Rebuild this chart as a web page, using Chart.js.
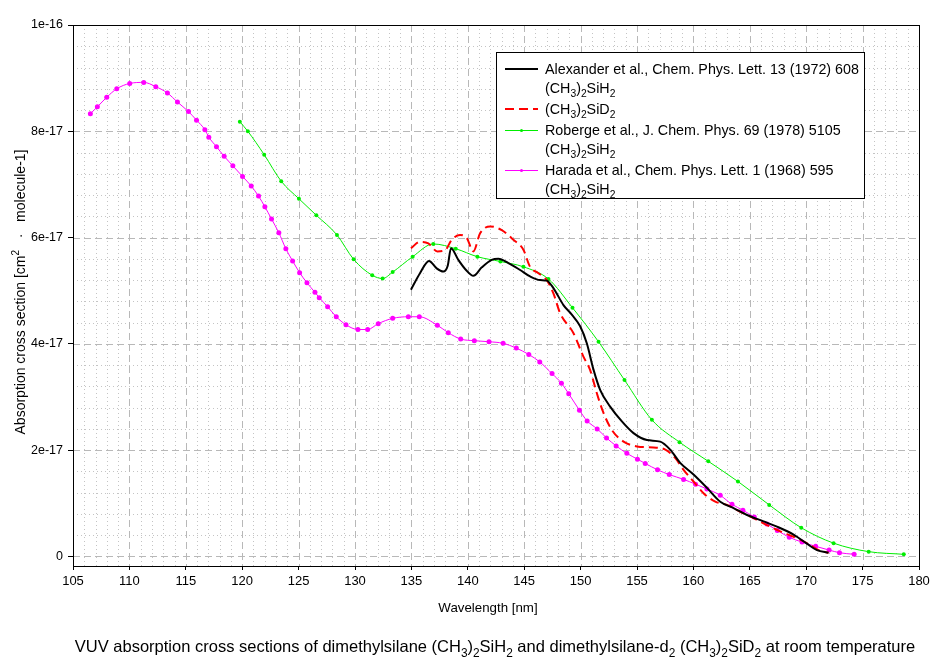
<!DOCTYPE html>
<html><head><meta charset="utf-8">
<script src="https://cdn.jsdelivr.net/npm/chart.js@4.4.1/dist/chart.umd.min.js"></script>
<style>html,body{margin:0;padding:0;background:#fff;}canvas{display:block;}</style>
</head><body>
<canvas id="c" width="944" height="663"></canvas>
<script>
// ---- data (y in units of 1e-17 cm^2 molecule^-1) ----
const xTicks = [105,110,115,120,125,130,135,140,145,150,155,160,165,170,175,180];
const yTicks = [0,2,4,6,8,10];
const yTickLabels = ['0','2e-17','4e-17','6e-17','8e-17','1e-16'];

const alexX = [134.96,135.76,136.56,137.24,137.83,138.22,138.51,139.16,139.84,140.49,141.24,142.12,142.71,143.60,144.64,145.52,146.41,147.00,147.59,148.48,149.22,149.96,150.55,151.15,151.74,152.62,153.66,154.69,155.88,157.06,157.94,158.83,160.01,161.20,162.38,163.56,164.75,166.22,167.41,168.88,170.06,170.95,171.98];
const alexY = [5.02,5.33,5.56,5.42,5.36,5.47,5.80,5.58,5.39,5.28,5.44,5.58,5.60,5.52,5.39,5.27,5.20,5.19,5.05,4.73,4.55,4.33,4.01,3.51,3.13,2.82,2.54,2.32,2.19,2.16,2.01,1.76,1.54,1.29,1.03,0.91,0.78,0.66,0.56,0.41,0.24,0.12,0.07];

const d2X = [134.96,135.76,136.50,137.30,137.98,138.58,139.31,139.91,140.49,141.09,141.98,143.01,144.04,144.93,145.52,146.26,147.00,147.59,148.18,149.37,150.25,150.84,151.44,152.03,152.77,153.81,155.00,156.47,157.51,158.40,159.13,160.01,160.90,161.94,162.98,164.16,165.34,166.52,167.70,168.88,170.06,171.10,171.98];
const d2Y = [5.80,5.92,5.89,5.74,5.76,5.96,6.05,5.99,5.74,6.08,6.21,6.14,5.96,5.77,5.45,5.33,5.20,4.95,4.58,4.20,3.76,3.51,3.07,2.70,2.38,2.16,2.07,2.05,2.01,1.85,1.63,1.41,1.19,1.03,0.97,0.84,0.72,0.59,0.47,0.37,0.25,0.12,0.07];

const robX = [119.79,120.50,121.95,123.46,125.03,126.57,128.40,129.88,131.53,132.45,133.34,135.11,136.94,138.93,140.85,142.89,144.93,147.15,149.28,151.59,153.89,156.32,158.77,161.32,163.95,166.72,169.56,172.43,175.54,178.65];
const robY = [8.18,8.00,7.56,7.06,6.73,6.42,6.05,5.59,5.29,5.23,5.35,5.64,5.88,5.79,5.64,5.55,5.45,5.22,4.68,4.04,3.32,2.57,2.15,1.79,1.41,0.97,0.54,0.25,0.09,0.04];

const harX = [106.54,107.16,107.99,108.88,110.03,111.27,112.34,113.37,114.26,115.24,115.95,116.69,117.04,117.72,118.40,119.17,120.03,120.80,121.45,122.01,122.60,123.25,123.87,124.47,125.09,125.74,126.45,126.83,127.57,128.34,129.20,130.26,131.12,132.06,133.34,134.73,135.70,137.30,138.27,139.37,140.58,141.88,143.13,144.30,145.41,146.38,147.47,148.30,148.95,149.90,150.58,151.47,152.30,153.15,154.10,155.04,155.73,156.82,157.86,159.13,160.19,161.20,162.38,163.42,164.39,165.40,166.52,167.44,168.50,169.63,170.84,172.03,172.95,174.25];
const harY = [8.33,8.46,8.64,8.80,8.90,8.92,8.84,8.72,8.55,8.37,8.21,8.03,7.89,7.71,7.53,7.35,7.15,6.97,6.78,6.58,6.35,6.09,5.79,5.56,5.34,5.15,4.97,4.87,4.70,4.51,4.36,4.27,4.27,4.38,4.48,4.51,4.51,4.35,4.21,4.09,4.06,4.04,4.01,3.92,3.80,3.66,3.44,3.26,3.06,2.75,2.55,2.40,2.23,2.08,1.94,1.83,1.75,1.63,1.54,1.45,1.36,1.27,1.15,0.98,0.87,0.74,0.61,0.49,0.36,0.27,0.19,0.12,0.07,0.04];

const zip = (xs, ys) => xs.map((x, i) => ({x: x, y: ys[i]}));

const FONT = '"Liberation Sans", Arial, Helvetica, sans-serif';

// rich text: segments [text, mode] mode: 0 normal, 1 sub, 2 sup
function richWidth(ctx, segs, size) {
  let w = 0;
  segs.forEach(s => {
    ctx.font = (s[1] ? size * 0.72 : size) + 'px ' + FONT;
    w += ctx.measureText(s[0]).width;
  });
  return w;
}
function drawRich(ctx, segs, x, y, size, align) {
  const w = richWidth(ctx, segs, size);
  let cx = align === 'center' ? x - w / 2 : (align === 'right' ? x - w : x);
  ctx.textAlign = 'left';
  ctx.textBaseline = 'alphabetic';
  segs.forEach(s => {
    const sz = s[1] ? size * 0.72 : size;
    ctx.font = sz + 'px ' + FONT;
    let dy = 0;
    if (s[1] === 1) dy = size * 0.28;
    if (s[1] === 2) dy = -size * 0.42;
    ctx.fillText(s[0], cx, y + dy);
    cx += ctx.measureText(s[0]).width;
  });
}
const SIH2 = [['(CH',0],['3',1],[')',0],['2',1],['SiH',0],['2',1]];
const SID2 = [['(CH',0],['3',1],[')',0],['2',1],['SiD',0],['2',1]];

const legendItems = [
  {rows: [[['Alexander et al., Chem. Phys. Lett. 13 (1972) 608',0]], SIH2], color: '#000000', width: 2, dash: [], marker: false},
  {rows: [SID2], color: '#ff0000', width: 2, dash: [9,5], marker: false},
  {rows: [[['Roberge et al., J. Chem. Phys. 69 (1978) 5105',0]], SIH2], color: '#00ee00', width: 1, dash: [], marker: true},
  {rows: [[['Harada et al., Chem. Phys. Lett. 1 (1968) 595',0]], SIH2], color: '#ff00ff', width: 1, dash: [], marker: true}
];

const gridPlugin = {
  id: 'gridPlugin',
  beforeDatasetsDraw(chart) {
    const ctx = chart.ctx, a = chart.chartArea;
    const xs = chart.scales.x, ys = chart.scales.y;
    ctx.save();
    ctx.lineWidth = 1;
    // minor dotted
    ctx.strokeStyle = '#c4c4c4';
    ctx.setLineDash([1, 3]);
    for (let v = 106; v < 180; v++) {
      if (v % 5 === 0) continue;
      const px = Math.round(xs.getPixelForValue(v)) + 0.5;
      ctx.beginPath(); ctx.moveTo(px, a.top); ctx.lineTo(px, a.bottom); ctx.stroke();
    }
    for (let k = 1; k < 25; k++) {
      if (k % 5 === 0) continue;
      const py = Math.round(ys.getPixelForValue(k * 0.4)) + 0.5;
      ctx.beginPath(); ctx.moveTo(a.left, py); ctx.lineTo(a.right, py); ctx.stroke();
    }
    // major dashed
    ctx.strokeStyle = '#b8b8b8';
    ctx.setLineDash([7, 4]);
    xTicks.forEach(v => {
      if (v === 105 || v === 180) return;
      const px = Math.round(xs.getPixelForValue(v)) + 0.5;
      ctx.beginPath(); ctx.moveTo(px, a.top); ctx.lineTo(px, a.bottom); ctx.stroke();
    });
    yTicks.forEach(v => {
      if (v === 10) return;
      const py = Math.round(ys.getPixelForValue(v)) + 0.5;
      ctx.beginPath(); ctx.moveTo(a.left, py); ctx.lineTo(a.right, py); ctx.stroke();
    });
    ctx.restore();
  },
  afterDraw(chart) {
    const ctx = chart.ctx, a = chart.chartArea;
    ctx.save();
    // frame
    ctx.setLineDash([]);
    ctx.strokeStyle = '#000';
    ctx.lineWidth = 1;
    ctx.strokeRect(Math.round(a.left) + 0.5, Math.round(a.top) + 0.5, Math.round(a.right - a.left), Math.round(a.bottom - a.top));
    ctx.fillStyle = '#000';
    // x title
    drawRich(ctx, [['Wavelength [nm]',0]], 488, 612, 13.3, 'center');
    // caption
    drawRich(ctx, [['VUV absorption cross sections of dimethylsilane ',0]].concat(SIH2, [[' and dimethylsilane-d',0],['2',1],[' ',0]], SID2, [[' at room temperature',0]]), 495, 652, 16.5, 'center');
    // y title
    ctx.save();
    ctx.translate(25, 292);
    ctx.rotate(-Math.PI / 2);
    drawRich(ctx, [['Absorption cross section [cm',0],['2',2],['   \u00B7   molecule-1]',0]], 0, 0, 14, 'center');
    ctx.restore();
    // legend
    const L = 496, T = 52, R = 864, B = 198;
    ctx.fillStyle = '#fff';
    ctx.fillRect(L, T, R - L, B - T);
    ctx.strokeStyle = '#000';
    ctx.strokeRect(L + 0.5, T + 0.5, R - L, B - T);
    const rowY = [[69, 88], [109], [130, 149], [170, 189]];
    legendItems.forEach((it, i) => {
      const ly = rowY[i][0];
      ctx.save();
      ctx.strokeStyle = it.color;
      ctx.lineWidth = it.width;
      ctx.setLineDash(it.dash);
      ctx.beginPath();
      const yy = it.width === 1 ? ly + 0.5 : ly;
      ctx.moveTo(505, yy); ctx.lineTo(538, yy); ctx.stroke();
      if (it.marker) {
        ctx.fillStyle = it.color;
        ctx.beginPath(); ctx.arc(521.5, ly + 0.5, 1.5, 0, Math.PI * 2); ctx.fill();
      }
      ctx.restore();
      ctx.fillStyle = '#000';
      it.rows.forEach((r, j) => {
        drawRich(ctx, r, 545, rowY[i][j] + 5, 14.3, 'left');
      });
    });
    ctx.restore();
  }
};

new Chart(document.getElementById('c'), {
  type: 'line',
  data: {
    datasets: [
      {label: 'Alexander', data: zip(alexX, alexY), borderColor: '#000000', borderWidth: 2, pointRadius: 0, cubicInterpolationMode: 'monotone', fill: false},
      {label: 'D2', data: zip(d2X, d2Y), borderColor: '#ff0000', borderWidth: 2, borderDash: [9, 5], pointRadius: 0, cubicInterpolationMode: 'monotone', fill: false},
      {label: 'Roberge', data: zip(robX, robY), borderColor: '#00ee00', backgroundColor: '#00ee00', borderWidth: 1, pointRadius: 2, pointBorderWidth: 0, cubicInterpolationMode: 'monotone', fill: false},
      {label: 'Harada', data: zip(harX, harY), borderColor: '#ff00ff', backgroundColor: '#ff00ff', borderWidth: 1, pointRadius: 2.5, pointBorderWidth: 0, cubicInterpolationMode: 'monotone', fill: false}
    ]
  },
  options: {
    responsive: false,
    animation: false,
    devicePixelRatio: 1,
    layout: {padding: {left: 0, right: 25, top: 25, bottom: 0}},
    plugins: {legend: {display: false}, tooltip: {enabled: false}, title: {display: false}},
    elements: {line: {borderCapStyle: 'butt', borderJoinStyle: 'round'}},
    scales: {
      x: {
        type: 'linear', min: 105, max: 180,
        afterBuildTicks: s => { s.ticks = xTicks.map(v => ({value: v})); },
        afterFit: s => { s.height = 97; },
        ticks: {font: {family: FONT, size: 13}, color: '#000', padding: 4, maxRotation: 0, autoSkip: false, callback: v => String(v)},
        grid: {display: true, drawOnChartArea: false, drawTicks: true, tickLength: 4, tickColor: '#000', color: '#000'},
        border: {display: false}
      },
      y: {
        type: 'linear', min: -0.18, max: 10,
        afterBuildTicks: s => { s.ticks = yTicks.map(v => ({value: v})); },
        afterFit: s => { s.width = 73; },
        ticks: {font: {family: FONT, size: 12.5}, color: '#000', padding: 5, autoSkip: false, callback: (v, i) => yTickLabels[i]},
        grid: {display: true, drawOnChartArea: false, drawTicks: true, tickLength: 5, tickColor: '#000', color: '#000'},
        border: {display: false}
      }
    }
  },
  plugins: [gridPlugin]
});
</script>
</body></html>
